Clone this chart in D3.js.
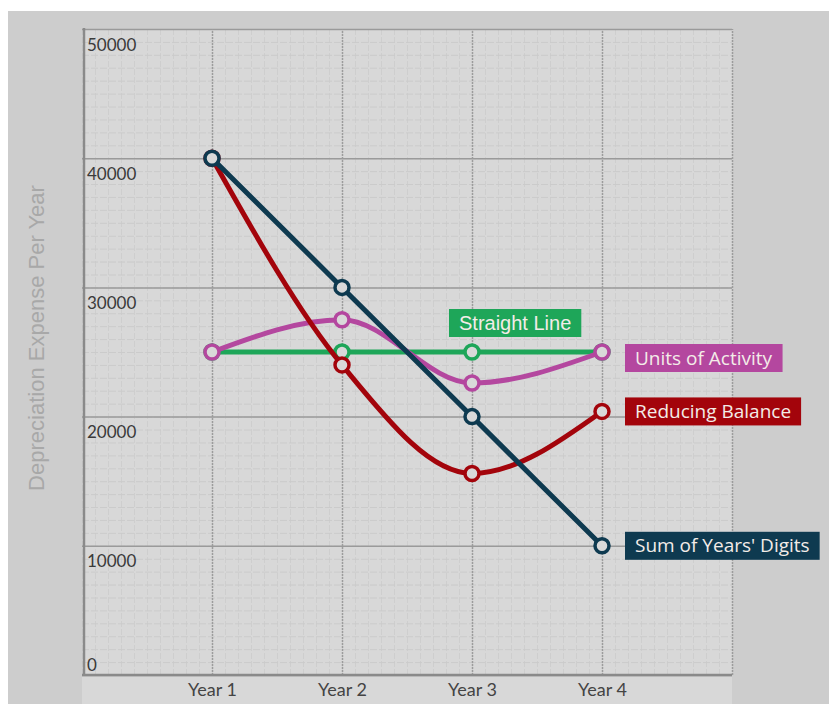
<!DOCTYPE html>
<html lang="en">
<head>
  <meta charset="UTF-8">
  <title>Depreciation methods</title>
  <style>
    body { margin: 0; background: #ffffff; }
    #thesvg { width: 829px; height: 704px; display: block; }
  </style>
</head>
<body>
  <script src="https://cdnjs.cloudflare.com/ajax/libs/d3/7.8.5/d3.min.js"></script>
  <svg id="thesvg"></svg>
  <script>

    // data
    var years = ["Year 1", "Year 2", "Year 3", "Year 4"];
    var yTicks = [0, 10000, 20000, 30000, 40000, 50000];
    var straightLine = [25000, 25000, 25000, 25000];
    var unitsOfActivity = [25000, 27500, 22600, 25000];
    var reducingBalance = [40000, 24000, 15600, 20400];
    var sumOfYearsDigits = [40000, 30000, 20000, 10000];

    var svg = d3.select("svg");

    // plot box (note: "top" is reserved on window, so use p*)
    var pLeft = 82, pRight = 732, pTop = 29, pBottom = 675;

    // x: year index 1..4, with one empty column on each side
    var x = d3.scaleLinear().domain([0, 5]).range([pLeft, pRight]);
    var y = d3.scaleLinear().domain([0, 50000]).range([pBottom, pTop]);

    // outer grey card
    svg.append("rect")
      .attr("x", 8).attr("y", 11)
      .attr("width", 829).attr("height", 704)
      .attr("fill", "#cdcdcd");

    // plot paper
    svg.append("rect")
      .attr("x", pLeft).attr("y", pTop)
      .attr("width", pRight - pLeft).attr("height", 704 - pTop)
      .attr("fill", "#d8d8d8");

    // faint minor grid (the paper texture)
    svg.append("g")
      .attr("transform", "translate(0," + pBottom + ")")
      .call(d3.axisBottom(x).ticks(50).tickSize(-(pBottom - pTop)).tickFormat(""))
      .call(g => g.select(".domain").remove())
      .call(g => g.selectAll("line").attr("stroke", "#cecece").attr("stroke-width", 1).attr("stroke-dasharray", "6,2"));
    svg.append("g")
      .attr("transform", "translate(" + pLeft + ",0)")
      .call(d3.axisLeft(y).ticks(50).tickSize(-(pRight - pLeft)).tickFormat(""))
      .call(g => g.select(".domain").remove())
      .call(g => g.selectAll("line").attr("stroke", "#cbcbcb").attr("stroke-width", 1).attr("stroke-dasharray", "7,2"));

    // major horizontal grid
    svg.append("g")
      .attr("transform", "translate(" + pLeft + ",0)")
      .call(d3.axisLeft(y).tickValues(yTicks).tickSize(-(pRight - pLeft)).tickFormat(""))
      .call(g => g.select(".domain").remove())
      .call(g => g.selectAll("line").attr("stroke", "#9a9a9a").attr("stroke-width", 1.5));

    // vertical year lines, dotted
    svg.append("g")
      .attr("transform", "translate(0," + pBottom + ")")
      .call(d3.axisBottom(x).tickValues([1, 2, 3, 4, 5]).tickSize(-(pBottom - pTop)).tickFormat(""))
      .call(g => g.select(".domain").remove())
      .call(g => g.selectAll("line").attr("stroke", "#9c9c9c").attr("stroke-width", 1.5).attr("stroke-dasharray", "2,1"));

    // axis frame
    svg.append("line")
      .attr("x1", pLeft + 2).attr("x2", pLeft + 2).attr("y1", pTop - 1).attr("y2", pBottom + 1)
      .attr("stroke", "#8a8a8a").attr("stroke-width", 2.5);
    svg.append("line")
      .attr("x1", pLeft).attr("x2", pRight).attr("y1", pBottom).attr("y2", pBottom)
      .attr("stroke", "#8a8a8a").attr("stroke-width", 2.5);

    // y tick labels sit inside the plot, under their line (0 sits above)
    svg.append("g")
      .attr("transform", "translate(" + (pLeft + 5) + ",0)")
      .call(d3.axisRight(y).tickValues(yTicks).tickSize(0).tickFormat(d3.format("d")))
      .call(g => g.select(".domain").remove())
      .call(g => g.selectAll("text")
        .attr("x", 0)
        .attr("dy", null)
        .attr("y", d => d === 0 ? -5 : 21)
        .attr("text-anchor", "start")
        .attr("fill", "#3a3a3a")
        .attr("font-family", "Lato, 'Open Sans', sans-serif")
        .attr("font-size", "17px"));

    // x tick labels
    svg.append("g")
      .attr("transform", "translate(0," + pBottom + ")")
      .call(d3.axisBottom(x).tickValues([1, 2, 3, 4]).tickSize(0).tickFormat(d => years[d - 1]))
      .call(g => g.select(".domain").remove())
      .call(g => g.selectAll("text")
        .attr("y", 8)
        .attr("fill", "#444")
        .attr("font-family", "Lato, 'Open Sans', sans-serif")
        .attr("font-size", "18px"));

    // y axis title
    svg.append("text")
      .attr("transform", "translate(44,338) rotate(-90)")
      .attr("text-anchor", "middle")
      .attr("fill", "#a8a8a8")
      .attr("font-family", "'Liberation Sans', Arial, sans-serif")
      .attr("font-size", "22px")
      .text("Depreciation Expense Per Year");

    var series = [
      { name: "Straight Line", values: straightLine, color: "#1ea659", font: "'Liberation Sans', Arial, sans-serif", size: 20 },
      { name: "Units of Activity", values: unitsOfActivity, color: "#b4479f", font: "'Open Sans', sans-serif", size: 19 },
      { name: "Reducing Balance", values: reducingBalance, color: "#a3040b", font: "'Open Sans', sans-serif", size: 19 },
      { name: "Sum of Years' Digits", values: sumOfYearsDigits, color: "#0e3a50", font: "'Open Sans', sans-serif", size: 19 }
    ];

    var line = d3.line()
      .x((d, i) => x(i + 1))
      .y(d => y(d))
      .curve(d3.curveMonotoneX);

    series.forEach(function(s) {
      var g = svg.append("g");
      g.append("path")
        .attr("d", line(s.values))
        .attr("fill", "none")
        .attr("stroke", s.color)
        .attr("stroke-width", 5)
        .attr("stroke-linejoin", "round");
      g.selectAll("circle")
        .data(s.values)
        .enter()
        .append("circle")
        .attr("cx", (d, i) => x(i + 1))
        .attr("cy", d => y(d))
        .attr("r", 7)
        .attr("fill", "#d9d9d9")
        .attr("stroke", s.color)
        .attr("stroke-width", 3.5);
    });

    // series labels in coloured boxes
    series.forEach(function(s) {
      var g = svg.append("g");
      var last = s.values[s.values.length - 1];
      var tx, ty;
      if (s.name === "Straight Line") {
        // above the Year 3 point
        tx = x(3) - 13;
        ty = y(s.values[2]) - 29;
      } else {
        tx = x(4) + 33;
        ty = y(last) + (s.name === "Units of Activity" ? 6 : 0);
      }
      var t = g.append("text")
        .attr("x", tx)
        .attr("y", ty)
        .attr("dy", "0.35em")
        .attr("fill", "#f3ece8")
        .attr("font-family", s.font)
        .attr("font-size", s.size + "px")
        .text(s.name);
      var b = t.node().getBBox();
      g.insert("rect", "text")
        .attr("x", b.x - 10)
        .attr("y", ty - 14)
        .attr("width", b.width + 20)
        .attr("height", 28)
        .attr("fill", s.color);
    });
  </script>
</body>
</html>
